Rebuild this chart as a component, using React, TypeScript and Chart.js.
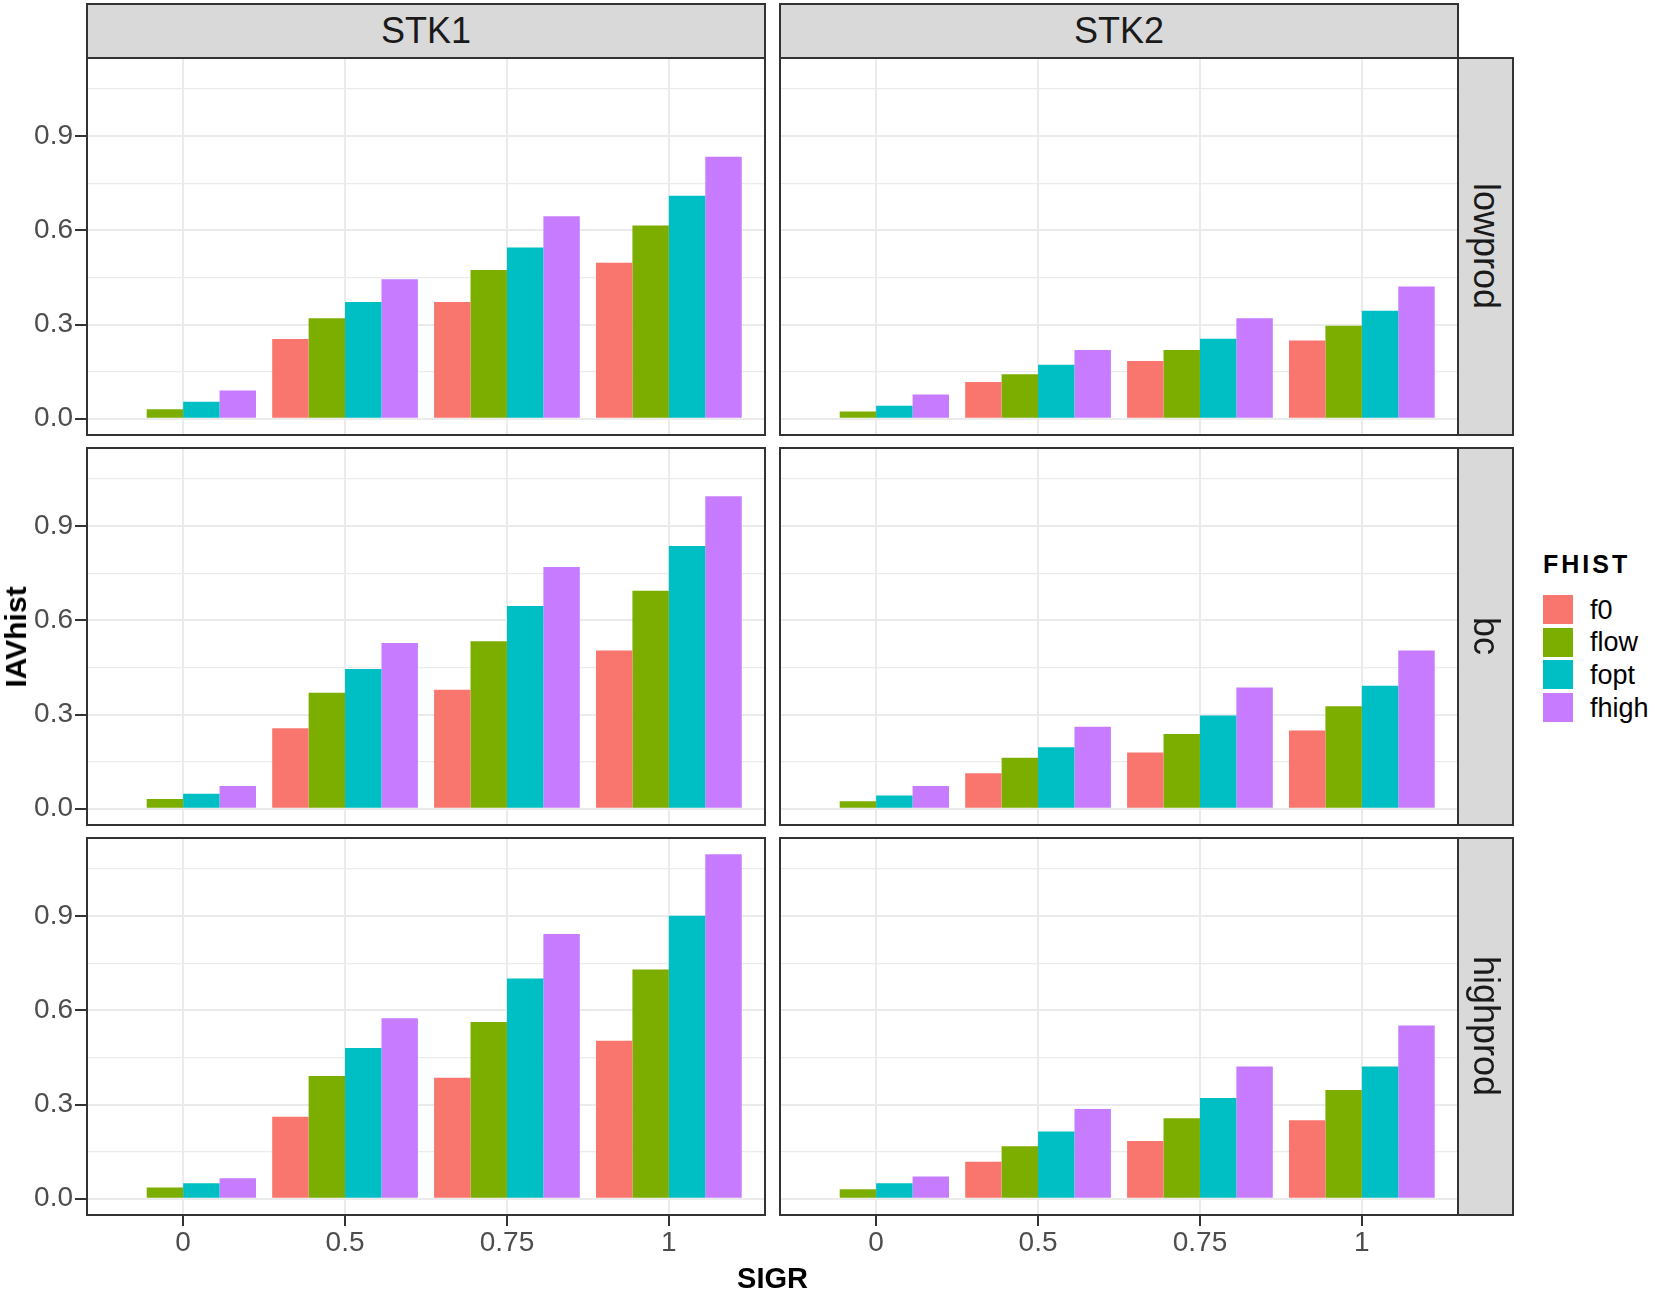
import { useEffect, useRef } from "react";
import { Chart, registerables } from "chart.js";

Chart.register(...registerables);

// categories
const sigr = ["0", "0.5", "0.75", "1"];
const fhist = ["f0", "flow", "fopt", "fhigh"];
const fhistColors = ["#F8766D", "#7CAE00", "#00BFC4", "#C77CFF"];
const stocks = ["STK1", "STK2"];
const prods = ["lowprod", "bc", "highprod"];

// y ticks
const majorTicks = [0, 0.3, 0.6, 0.9];
const minorTicks = [0.15, 0.45, 0.75, 1.05];

// IAVhist values, one array per FHIST level, ordered by SIGR
const stk1LowF0 = [0, 0.254, 0.372, 0.497];
const stk1LowFlow = [0.03, 0.32, 0.474, 0.615];
const stk1LowFopt = [0.054, 0.372, 0.545, 0.71];
const stk1LowFhigh = [0.09, 0.444, 0.645, 0.834];

const stk2LowF0 = [0, 0.117, 0.184, 0.249];
const stk2LowFlow = [0.023, 0.142, 0.219, 0.296];
const stk2LowFopt = [0.041, 0.172, 0.255, 0.344];
const stk2LowFhigh = [0.077, 0.219, 0.32, 0.421];

const stk1BcF0 = [0, 0.256, 0.379, 0.504];
const stk1BcFlow = [0.031, 0.369, 0.533, 0.694];
const stk1BcFopt = [0.048, 0.445, 0.646, 0.837];
const stk1BcFhigh = [0.072, 0.528, 0.77, 0.995];

const stk2BcF0 = [0, 0.113, 0.179, 0.249];
const stk2BcFlow = [0.024, 0.162, 0.238, 0.326];
const stk2BcFopt = [0.042, 0.196, 0.297, 0.392];
const stk2BcFhigh = [0.072, 0.261, 0.386, 0.504];

const stk1HighF0 = [0, 0.261, 0.385, 0.503];
const stk1HighFlow = [0.036, 0.391, 0.563, 0.73];
const stk1HighFopt = [0.049, 0.48, 0.701, 0.901];
const stk1HighFhigh = [0.065, 0.575, 0.843, 1.097];

const stk2HighF0 = [0, 0.118, 0.184, 0.25];
const stk2HighFlow = [0.03, 0.167, 0.256, 0.346];
const stk2HighFopt = [0.049, 0.214, 0.321, 0.421];
const stk2HighFhigh = [0.071, 0.286, 0.421, 0.552];

// rows = prods, cols = stocks
const panelSeries = [
  [
    [stk1LowF0, stk1LowFlow, stk1LowFopt, stk1LowFhigh],
    [stk2LowF0, stk2LowFlow, stk2LowFopt, stk2LowFhigh],
  ],
  [
    [stk1BcF0, stk1BcFlow, stk1BcFopt, stk1BcFhigh],
    [stk2BcF0, stk2BcFlow, stk2BcFopt, stk2BcFhigh],
  ],
  [
    [stk1HighF0, stk1HighFlow, stk1HighFopt, stk1HighFhigh],
    [stk2HighF0, stk2HighFlow, stk2HighFopt, stk2HighFhigh],
  ],
];

// layout (px)
const COL_LEFT = [86, 779];
const ROW_TOP = [57, 447, 837];
const PANEL_W = 680;
const PANEL_H = 379;
const Y_AXIS_W = 86;
const X_AXIS_H = 50;
const STRIP_W = 57;

const FONT = "'Liberation Sans', Arial, sans-serif";
const GRID = "#EBEBEB";
const DARK = "#333333";

const panelBorder = {
  id: "panelBorder",
  afterDatasetsDraw(chart: Chart) {
    const { ctx, chartArea: a } = chart;
    ctx.save();
    ctx.strokeStyle = DARK;
    ctx.lineWidth = 2;
    ctx.strokeRect(a.left + 1, a.top + 1, a.right - a.left - 2, a.bottom - a.top - 2);
    ctx.restore();
  },
};

const isMajor = (v: number) => majorTicks.includes(v);

type PanelProps = { series: number[][]; col: number; row: number };

const Panel = ({ series, col, row }: PanelProps) => {
  const canvasRef = useRef<HTMLCanvasElement | null>(null);
  const showY = col === 0;
  const showX = row === prods.length - 1;
  const width = PANEL_W + (showY ? Y_AXIS_W : 0);
  const height = PANEL_H + (showX ? X_AXIS_H : 0);

  useEffect(() => {
    if (!canvasRef.current) return;
    const chart = new Chart(canvasRef.current, {
      type: "bar",
      data: {
        datasets: fhist.map((name, i) => ({
          label: name,
          data: series[i].map((v, j) => ({ x: j, y: v })),
          backgroundColor: fhistColors[i],
          borderWidth: 0,
          categoryPercentage: 0.9,
          barPercentage: 1,
        })),
      },
      plugins: [panelBorder],
      options: {
        animation: false,
        responsive: false,
        layout: { padding: 0, autoPadding: false },
        plugins: {
          legend: { display: false },
          tooltip: { enabled: false },
        },
        scales: {
          x: {
            type: "linear",
            min: -0.6,
            max: 3.6,
            bounds: "data",
            offset: false,
            afterBuildTicks: (s: any) => {
              s.ticks = sigr.map((_, j) => ({ value: j }));
            },
            afterFit: (s: any) => {
              s.height = showX ? X_AXIS_H : 0;
              s.paddingLeft = 0;
              s.paddingRight = 0;
            },
            ticks: {
              display: showX,
              autoSkip: false,
              maxRotation: 0,
              padding: 0,
              color: "#4D4D4D",
              font: { family: FONT, size: 28 },
              callback: (v: any) => sigr[v as number],
            },
            grid: {
              offset: false,
              color: GRID,
              lineWidth: 2,
              drawTicks: showX,
              tickLength: 10,
              tickColor: DARK,
              tickWidth: 2,
            },
            border: { display: false },
          },
          y: {
            type: "linear",
            min: -0.055,
            max: 1.152,
            bounds: "data",
            afterBuildTicks: (s: any) => {
              s.ticks = [...majorTicks, ...minorTicks]
                .sort((a, b) => a - b)
                .map((v) => ({ value: v }));
            },
            afterFit: (s: any) => {
              s.width = showY ? Y_AXIS_W : 0;
              s.paddingTop = 0;
              s.paddingBottom = 0;
            },
            ticks: {
              display: showY,
              padding: 2,
              color: "#4D4D4D",
              font: { family: FONT, size: 28 },
              callback: (v: any) => (isMajor(v as number) ? (v as number).toFixed(1) : ""),
            },
            grid: {
              color: GRID,
              lineWidth: (c: any) => (isMajor(c.tick.value) ? 2 : 1.2),
              drawTicks: showY,
              tickLength: 11,
              tickColor: (c: any) => (isMajor(c.tick.value) ? DARK : "rgba(0,0,0,0)"),
              tickWidth: 2,
            },
            border: { display: false },
          },
        },
      },
    } as any);
    return () => chart.destroy();
  }, [series, showX, showY]);

  return (
    <canvas
      ref={canvasRef}
      width={width}
      height={height}
      style={{
        position: "absolute",
        left: COL_LEFT[col] - (showY ? Y_AXIS_W : 0),
        top: ROW_TOP[row],
        width,
        height,
      }}
    />
  );
};

const stripStyle = {
  position: "absolute" as const,
  boxSizing: "border-box" as const,
  background: "#D9D9D9",
  border: `2px solid ${DARK}`,
  color: "#1A1A1A",
  fontFamily: FONT,
  fontSize: 36,
  display: "flex",
  alignItems: "center",
  justifyContent: "center",
};

export default function App() {
  const lastRowBottom = ROW_TOP[ROW_TOP.length - 1] + PANEL_H;
  const panelsMidY = (ROW_TOP[0] + lastRowBottom) / 2;
  const panelsMidX = (COL_LEFT[0] + COL_LEFT[1] + PANEL_W) / 2;

  return (
    <div
      style={{
        position: "absolute",
        left: 0,
        top: 0,
        width: 1655,
        height: 1290,
        background: "#FFFFFF",
        fontFamily: FONT,
        overflow: "hidden",
      }}
    >
      {panelSeries.map((rowSeries, r) =>
        rowSeries.map((series, c) => (
          <Panel key={`${r}-${c}`} series={series} col={c} row={r} />
        ))
      )}

      {stocks.map((s, c) => (
        <div
          key={s}
          style={{ ...stripStyle, left: COL_LEFT[c], top: 3, width: PANEL_W, height: 56 }}
        >
          {s}
        </div>
      ))}

      {prods.map((p, r) => (
        <div
          key={p}
          style={{
            ...stripStyle,
            left: COL_LEFT[1] + PANEL_W - 2,
            top: ROW_TOP[r],
            width: STRIP_W,
            height: PANEL_H,
          }}
        >
          <span style={{ writingMode: "vertical-rl" }}>{p}</span>
        </div>
      ))}

      <div
        style={{
          position: "absolute",
          left: 16,
          top: panelsMidY,
          transform: "translate(-50%, -50%) rotate(-90deg)",
          fontSize: 30,
          fontWeight: "bold",
          color: "#000000",
          whiteSpace: "nowrap",
        }}
      >
        IAVhist
      </div>

      <div
        style={{
          position: "absolute",
          left: panelsMidX,
          top: 1278,
          transform: "translate(-50%, -50%)",
          fontSize: 29,
          fontWeight: "bold",
          color: "#000000",
          whiteSpace: "nowrap",
        }}
      >
        SIGR
      </div>

      <div
        style={{
          position: "absolute",
          left: 1543,
          top: 551,
          fontSize: 25,
          lineHeight: "26px",
          fontWeight: "bold",
          letterSpacing: 3,
          color: "#000000",
        }}
      >
        FHIST
      </div>
      {fhist.map((name, i) => (
        <div key={name}>
          <div
            style={{
              position: "absolute",
              left: 1543,
              top: 595 + i * 32.7,
              width: 30,
              height: 29,
              background: fhistColors[i],
            }}
          />
          <div
            style={{
              position: "absolute",
              left: 1590,
              top: 595 + i * 32.7 + 14.5,
              transform: "translateY(-50%)",
              fontSize: 27,
              lineHeight: "30px",
              color: "#000000",
            }}
          >
            {name}
          </div>
        </div>
      ))}
    </div>
  );
}
